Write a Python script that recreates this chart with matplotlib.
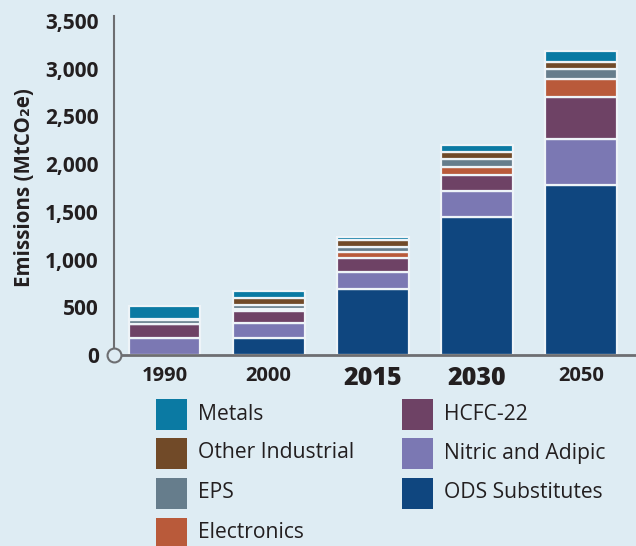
import matplotlib
matplotlib.use("Agg")
import matplotlib.pyplot as plt
from matplotlib.patches import Rectangle
import numpy as np

plt.rcParams['font.family'] = ['Open Sans', 'DejaVu Sans']

years = ["1990", "2000", "2015", "2030", "2050"]
bold_years = ["2015", "2030"]

# stacked from bottom to top, MtCO2e
ods = [0, 183, 695, 1444, 1784]
nitric = [180, 155, 174, 272, 480]
hcfc = [140, 120, 150, 173, 442]
electronics = [0, 26, 61, 84, 183]
eps = [45, 39, 50, 78, 105]
other_ind = [10, 75, 70, 77, 74]
metals = [135, 68, 35, 68, 112]

series = [
    ("ODS Substitutes", ods, "#0f467f"),
    ("Nitric and Adipic", nitric, "#7b78b3"),
    ("HCFC-22", hcfc, "#6e4265"),
    ("Electronics", electronics, "#b95a3a"),
    ("EPS", eps, "#667d8c"),
    ("Other Industrial", other_ind, "#714a28"),
    ("Metals", metals, "#0b7aa3"),
]
legend_cols = [["Metals", "Other Industrial", "EPS", "Electronics"],
               ["HCFC-22", "Nitric and Adipic", "ODS Substitutes"]]

yticks = [0, 500, 1000, 1500, 2000, 2500, 3000, 3500]

bg = "#deecf3"
txt = "#231f20"
axis_col = "#6d6e71"
W, H = 636, 546

fig = plt.figure(figsize=(6.36, 5.46), dpi=100, facecolor=bg)
ax = fig.add_axes([114 / W, 191 / H, 522 / W, 339 / H], facecolor=bg)

x = np.arange(len(years))
bottom = np.zeros(len(years))
colors = {}
for name, vals, col in series:
    ax.bar(x, vals, bottom=bottom, width=0.69, color=col,
           edgecolor="#eef4f8", linewidth=1.6)
    bottom += np.array(vals)
    colors[name] = col

ax.set_xlim(-0.486, 4.53)
ax.set_ylim(0, 3550)
ax.set_yticks(yticks)
ax.set_yticklabels([f"{v:,}" for v in yticks], fontsize=15,
                   fontweight="bold", color=txt)
ax.set_xticks(x)
ax.set_xticklabels(years, color=txt)
for lab in ax.get_xticklabels():
    if lab.get_text() in bold_years:
        lab.set_fontsize(18)
        lab.set_fontweight("heavy")
    else:
        lab.set_fontsize(14.5)
        lab.set_fontweight("bold")
ax.tick_params(axis="y", length=0, pad=11)
ax.tick_params(axis="x", length=0, pad=8)

for s in ["top", "right"]:
    ax.spines[s].set_visible(False)
ax.spines["left"].set_color(axis_col)
ax.spines["left"].set_linewidth(1.5)
ax.spines["bottom"].set_color(axis_col)
ax.spines["bottom"].set_linewidth(2)
ax.plot([0], [0], "o", transform=ax.transAxes, ms=10, mfc=bg,
        mec=axis_col, mew=1.5, clip_on=False, zorder=5)

fig.text(25 / W, 1 - 188 / H, "Emissions (MtCO\u2082e)", rotation=90,
         ha="center", va="center", fontsize=14.8, fontweight="bold", color=txt)

# legend, two columns of colour squares
col_x = [156, 402]
row_y = [414, 453, 493, 533]
sq = 31
for ci, names in enumerate(legend_cols):
    for ri, name in enumerate(names):
        cx, cy = col_x[ci], row_y[ri]
        fig.add_artist(Rectangle((cx / W, 1 - (cy + sq / 2) / H), sq / W, sq / H,
                                 transform=fig.transFigure, facecolor=colors[name],
                                 edgecolor="none"))
        fig.text((cx + sq + 11) / W, 1 - cy / H, name, ha="left", va="center",
                 fontsize=15.2, color=txt)

fig.savefig("out.png", dpi=100, facecolor=bg)
